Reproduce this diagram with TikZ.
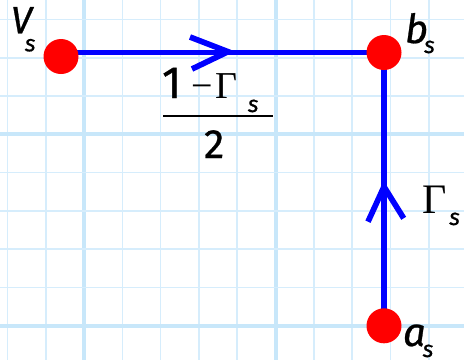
\documentclass[tikz,border=0pt]{standalone}
\usepackage{fontspec}
\newfontfamily\cfont[FakeBold=0.7]{Fira Sans}
\newfontfamily\gfont{Liberation Serif}
\pgfdeclarelayer{gridlayer}
\pgfdeclarelayer{wirelayer}
\pgfsetlayers{gridlayer,wirelayer,main}
\definecolor{gthin}{RGB}{214,237,252}
\definecolor{gthick}{RGB}{200,231,250}
\definecolor{wireblue}{RGB}{0,0,255}
\definecolor{dotred}{RGB}{255,0,0}
\tikzset{
  gridthin/.style={draw=gthin, line width=1.6pt},
  gridthick/.style={draw=gthick, line width=4pt},
  wire/.style={draw=wireblue, line width=5.7pt},
  chev/.style={draw=wireblue, line width=5.7pt, line join=miter},
  dotnode/.style={circle, fill=dotred, minimum size=35pt, inner sep=0pt},
  lbl/.style={inner sep=0pt, outer sep=0pt, font=\cfont},
  fracbar/.style={draw=black, line width=2.2pt}
}
\begin{document}
\begin{tikzpicture}[x=1pt,y=-1pt]
\useasboundingbox (0,0) rectangle (464,360);
\begin{pgfonlayer}{gridlayer}
  \fill[white] (0,0) rectangle (464,360);
  \foreach \k in {-2,...,10} {
    \ifnum\k=0 \def\gs{gridthick}\else\ifnum\k=5 \def\gs{gridthick}\else\def\gs{gridthin}\fi\fi
    \draw[\gs] ({84+38.3*\k},0) -- ++(0,360);
  }
  \foreach \k in {-3,...,5} {
    \ifnum\k=0 \def\gs{gridthick}\else\ifnum\k=5 \def\gs{gridthick}\else\def\gs{gridthin}\fi\fi
    \draw[\gs] (0,{134.3+38.3*\k}) -- ++(464,0);
  }
\end{pgfonlayer}

\node[dotnode] (Vs) at (61,56.5) {};
\node[dotnode] (bs) at (384,52.5) {};
\node[dotnode] (as) at (384,325.8) {};

\begin{pgfonlayer}{wirelayer}
  \draw[wire] (Vs.center |- bs.center) -- (bs.center);
  \draw[wire] (bs.center) -- (as.center);
  \draw[chev] (190,37) -- (228,51.7) -- (192,69);
  \draw[chev] (368,221.7) -- (384,186.7) -- (403.7,218.3);
\end{pgfonlayer}

% labels
\node[lbl, anchor=base west] (Vlab) at (11,33.3)
  {\fontsize{38}{38}\selectfont\itshape V\hspace{-7pt}\raisebox{-18pt}{\fontsize{23}{23}\selectfont s}};
\node[lbl, anchor=base west] (blab) at (405,43)
  {\fontsize{40}{40}\selectfont\itshape b\hspace{-4pt}\raisebox{-10pt}{\fontsize{23}{23}\selectfont s}};
\node[lbl, anchor=base west] (alab) at (403,346)
  {\fontsize{40}{40}\selectfont\itshape a\hspace{-3pt}\raisebox{-11pt}{\fontsize{23}{23}\selectfont s}};
\node[lbl, anchor=base west] (glab) at (422,213)
  {\fontsize{42}{42}\selectfont\gfont Γ\hspace{3pt}\raisebox{-12pt}{\fontsize{23}{23}\selectfont\cfont\itshape s}};

% fraction
\node[lbl, anchor=base west] (num) at (162,98)
  {\fontsize{45}{45}\selectfont 1\hspace{10pt}{\fontsize{38}{38}\selectfont\gfont −}\hspace{3pt}{\fontsize{38}{38}\selectfont\gfont Γ}\hspace{10pt}\raisebox{-14pt}{\fontsize{23}{23}\selectfont\itshape s}};
\coordinate (fl) at (163,116);
\coordinate (fr) at (273,116);
\draw[fracbar] (fl) -- (fr);
\node[lbl, anchor=base west] (den) at (204,158)
  {\fontsize{41}{41}\selectfont 2};
\end{tikzpicture}
\end{document}
